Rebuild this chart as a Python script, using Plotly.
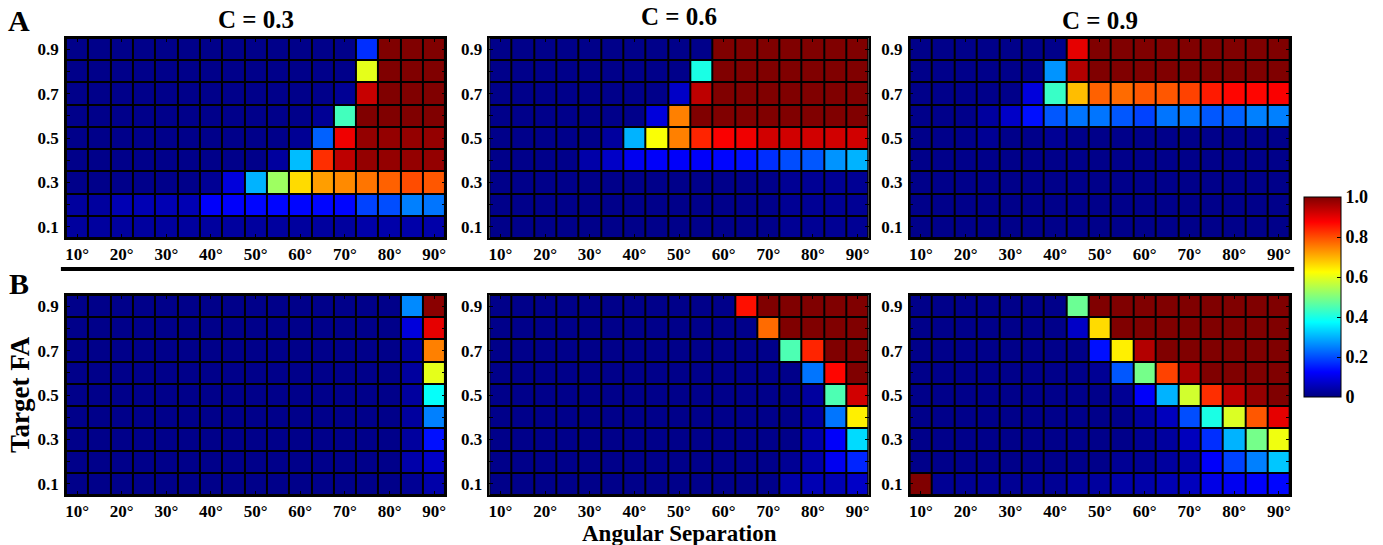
import plotly.graph_objects as go

# Angular separation categories (degrees) and target FA levels
angles = [10, 15, 20, 25, 30, 35, 40, 45, 50, 55, 60, 65, 70, 75, 80, 85, 90]
fa_levels_top_down = [0.9, 0.8, 0.7, 0.6, 0.5, 0.4, 0.3, 0.2, 0.1]
x_tick_vals = [10, 20, 30, 40, 50, 60, 70, 80, 90]
x_tick_text = ["10°", "20°", "30°", "40°", "50°", "60°", "70°", "80°", "90°"]
y_tick_vals = [0.1, 0.2, 0.3, 0.4, 0.5, 0.6, 0.7, 0.8, 0.9]
y_tick_text = ["0.1", "", "0.3", "", "0.5", "", "0.7", "", "0.9"]
cbar_vals = [0, 0.2, 0.4, 0.6, 0.8, 1.0]
cbar_text = ["0", "0.2", "0.4", "0.6", "0.8", "1.0"]
col_titles = ["C = 0.3", "C = 0.6", "C = 0.9"]

# Rows listed from FA 0.9 (top) to FA 0.1 (bottom)
A_c03 = [
    [0.01, 0.01, 0.01, 0.01, 0.01, 0.01, 0.01, 0.01, 0.01, 0.01, 0.01, 0.01, 0.01, 0.17, 1.00, 1.00, 1.00],
    [0.01, 0.01, 0.01, 0.01, 0.01, 0.01, 0.01, 0.01, 0.01, 0.01, 0.01, 0.01, 0.01, 0.60, 1.00, 1.00, 1.00],
    [0.01, 0.01, 0.01, 0.01, 0.01, 0.01, 0.01, 0.01, 0.01, 0.01, 0.01, 0.01, 0.02, 0.93, 1.00, 1.00, 1.00],
    [0.01, 0.01, 0.01, 0.01, 0.01, 0.01, 0.01, 0.01, 0.01, 0.01, 0.01, 0.02, 0.44, 1.00, 1.00, 1.00, 1.00],
    [0.01, 0.01, 0.01, 0.01, 0.01, 0.01, 0.01, 0.01, 0.01, 0.01, 0.02, 0.22, 0.89, 0.98, 0.98, 0.98, 0.98],
    [0.01, 0.01, 0.01, 0.01, 0.01, 0.01, 0.01, 0.01, 0.01, 0.03, 0.31, 0.83, 0.94, 0.98, 0.98, 0.98, 0.98],
    [0.01, 0.01, 0.01, 0.01, 0.01, 0.01, 0.02, 0.09, 0.30, 0.53, 0.66, 0.72, 0.74, 0.76, 0.78, 0.80, 0.79],
    [0.03, 0.03, 0.05, 0.05, 0.05, 0.05, 0.12, 0.12, 0.13, 0.13, 0.13, 0.13, 0.13, 0.19, 0.20, 0.25, 0.24],
    [0.03, 0.03, 0.03, 0.03, 0.03, 0.03, 0.03, 0.03, 0.03, 0.03, 0.03, 0.03, 0.03, 0.04, 0.04, 0.04, 0.04],
]
A_c06 = [
    [0.01, 0.01, 0.01, 0.01, 0.01, 0.01, 0.01, 0.01, 0.01, 0.01, 1.00, 1.00, 1.00, 1.00, 1.00, 1.00, 1.00],
    [0.01, 0.01, 0.01, 0.01, 0.01, 0.01, 0.01, 0.01, 0.01, 0.40, 1.00, 1.00, 1.00, 1.00, 1.00, 1.00, 1.00],
    [0.01, 0.01, 0.01, 0.01, 0.01, 0.01, 0.01, 0.01, 0.07, 0.94, 1.00, 1.00, 1.00, 1.00, 1.00, 1.00, 1.00],
    [0.01, 0.01, 0.01, 0.01, 0.01, 0.01, 0.01, 0.09, 0.75, 1.00, 1.00, 1.00, 1.00, 1.00, 1.00, 1.00, 1.00],
    [0.01, 0.01, 0.01, 0.01, 0.01, 0.03, 0.30, 0.62, 0.75, 0.84, 0.88, 0.89, 0.92, 0.92, 0.92, 0.92, 0.92],
    [0.01, 0.01, 0.01, 0.01, 0.04, 0.07, 0.11, 0.12, 0.12, 0.12, 0.13, 0.14, 0.17, 0.20, 0.21, 0.27, 0.30],
    [0.01, 0.01, 0.01, 0.01, 0.01, 0.01, 0.01, 0.01, 0.01, 0.01, 0.01, 0.01, 0.01, 0.02, 0.02, 0.02, 0.02],
    [0.01, 0.01, 0.01, 0.01, 0.01, 0.01, 0.01, 0.01, 0.01, 0.01, 0.01, 0.01, 0.01, 0.02, 0.02, 0.02, 0.02],
    [0.01, 0.01, 0.01, 0.01, 0.01, 0.01, 0.01, 0.01, 0.01, 0.01, 0.01, 0.01, 0.01, 0.02, 0.02, 0.02, 0.02],
]
A_c09 = [
    [0.01, 0.01, 0.01, 0.01, 0.01, 0.01, 0.01, 0.90, 1.00, 1.00, 1.00, 1.00, 1.00, 1.00, 1.00, 1.00, 1.00],
    [0.01, 0.01, 0.01, 0.01, 0.01, 0.01, 0.27, 0.95, 1.00, 1.00, 1.00, 1.00, 1.00, 1.00, 1.00, 1.00, 1.00],
    [0.01, 0.01, 0.01, 0.01, 0.01, 0.09, 0.43, 0.69, 0.78, 0.77, 0.79, 0.79, 0.81, 0.85, 0.87, 0.87, 0.88],
    [0.01, 0.01, 0.01, 0.03, 0.07, 0.14, 0.21, 0.24, 0.24, 0.21, 0.19, 0.24, 0.24, 0.21, 0.22, 0.25, 0.25],
    [0.01, 0.01, 0.01, 0.02, 0.01, 0.01, 0.02, 0.01, 0.01, 0.01, 0.01, 0.01, 0.01, 0.01, 0.01, 0.01, 0.01],
    [0.01, 0.01, 0.01, 0.01, 0.01, 0.01, 0.01, 0.01, 0.01, 0.01, 0.01, 0.01, 0.01, 0.01, 0.01, 0.01, 0.01],
    [0.01, 0.01, 0.01, 0.01, 0.01, 0.01, 0.01, 0.01, 0.01, 0.01, 0.01, 0.01, 0.01, 0.01, 0.01, 0.01, 0.01],
    [0.01, 0.01, 0.01, 0.01, 0.01, 0.01, 0.01, 0.01, 0.01, 0.01, 0.01, 0.01, 0.01, 0.01, 0.01, 0.01, 0.01],
    [0.01, 0.01, 0.01, 0.01, 0.01, 0.01, 0.01, 0.01, 0.01, 0.01, 0.01, 0.01, 0.01, 0.01, 0.01, 0.01, 0.01],
]
B_c03 = [
    [0.01, 0.01, 0.01, 0.01, 0.01, 0.01, 0.01, 0.01, 0.01, 0.01, 0.01, 0.01, 0.01, 0.01, 0.01, 0.26, 0.99],
    [0.01, 0.01, 0.01, 0.01, 0.01, 0.01, 0.01, 0.01, 0.01, 0.01, 0.01, 0.01, 0.01, 0.01, 0.01, 0.09, 0.90],
    [0.01, 0.01, 0.01, 0.01, 0.01, 0.01, 0.01, 0.01, 0.01, 0.01, 0.01, 0.01, 0.01, 0.01, 0.01, 0.03, 0.75],
    [0.01, 0.01, 0.01, 0.01, 0.01, 0.01, 0.01, 0.01, 0.01, 0.01, 0.01, 0.01, 0.01, 0.01, 0.01, 0.03, 0.60],
    [0.01, 0.01, 0.01, 0.01, 0.01, 0.01, 0.01, 0.01, 0.01, 0.01, 0.01, 0.01, 0.01, 0.01, 0.01, 0.03, 0.38],
    [0.01, 0.01, 0.01, 0.01, 0.01, 0.01, 0.01, 0.01, 0.01, 0.01, 0.01, 0.01, 0.01, 0.01, 0.01, 0.03, 0.25],
    [0.01, 0.01, 0.01, 0.01, 0.01, 0.01, 0.01, 0.01, 0.01, 0.01, 0.01, 0.01, 0.01, 0.01, 0.01, 0.03, 0.14],
    [0.01, 0.01, 0.01, 0.01, 0.01, 0.01, 0.01, 0.01, 0.01, 0.01, 0.01, 0.01, 0.01, 0.01, 0.01, 0.04, 0.07],
    [0.01, 0.01, 0.01, 0.01, 0.01, 0.01, 0.01, 0.01, 0.01, 0.01, 0.01, 0.01, 0.01, 0.01, 0.01, 0.02, 0.04],
]
B_c06 = [
    [0.01, 0.01, 0.01, 0.01, 0.01, 0.01, 0.01, 0.01, 0.01, 0.01, 0.01, 0.86, 1.00, 1.00, 1.00, 1.00, 1.00],
    [0.01, 0.01, 0.01, 0.01, 0.01, 0.01, 0.01, 0.01, 0.01, 0.01, 0.01, 0.01, 0.77, 1.00, 1.00, 1.00, 1.00],
    [0.01, 0.01, 0.01, 0.01, 0.01, 0.01, 0.01, 0.01, 0.01, 0.01, 0.01, 0.01, 0.01, 0.45, 0.84, 1.00, 1.00],
    [0.01, 0.01, 0.01, 0.01, 0.01, 0.01, 0.01, 0.01, 0.01, 0.01, 0.01, 0.01, 0.01, 0.01, 0.24, 0.87, 1.00],
    [0.01, 0.01, 0.01, 0.01, 0.01, 0.01, 0.01, 0.01, 0.01, 0.01, 0.01, 0.01, 0.01, 0.01, 0.03, 0.45, 0.92],
    [0.01, 0.01, 0.01, 0.01, 0.01, 0.01, 0.01, 0.01, 0.01, 0.01, 0.01, 0.01, 0.01, 0.01, 0.03, 0.24, 0.64],
    [0.01, 0.01, 0.01, 0.01, 0.01, 0.01, 0.01, 0.01, 0.01, 0.01, 0.01, 0.01, 0.01, 0.01, 0.04, 0.12, 0.34],
    [0.01, 0.01, 0.01, 0.01, 0.01, 0.01, 0.01, 0.01, 0.01, 0.01, 0.01, 0.01, 0.01, 0.02, 0.04, 0.11, 0.16],
    [0.01, 0.01, 0.01, 0.01, 0.01, 0.01, 0.01, 0.01, 0.01, 0.01, 0.01, 0.01, 0.01, 0.04, 0.05, 0.05, 0.07],
]
B_c09 = [
    [0.01, 0.01, 0.01, 0.01, 0.01, 0.01, 0.01, 0.48, 1.00, 1.00, 1.00, 1.00, 1.00, 1.00, 1.00, 1.00, 1.00],
    [0.01, 0.01, 0.01, 0.01, 0.01, 0.01, 0.01, 0.07, 0.66, 1.00, 1.00, 1.00, 1.00, 1.00, 1.00, 1.00, 1.00],
    [0.01, 0.01, 0.01, 0.01, 0.01, 0.01, 0.01, 0.01, 0.14, 0.64, 0.95, 1.00, 1.00, 1.00, 1.00, 1.00, 1.00],
    [0.01, 0.01, 0.01, 0.01, 0.01, 0.01, 0.01, 0.01, 0.02, 0.21, 0.49, 0.81, 0.96, 1.00, 1.00, 1.00, 1.00],
    [0.01, 0.01, 0.01, 0.01, 0.01, 0.01, 0.01, 0.01, 0.01, 0.02, 0.12, 0.30, 0.58, 0.83, 0.94, 0.98, 1.00],
    [0.01, 0.01, 0.01, 0.01, 0.01, 0.01, 0.01, 0.01, 0.01, 0.01, 0.03, 0.06, 0.20, 0.40, 0.59, 0.79, 0.90],
    [0.01, 0.01, 0.01, 0.01, 0.01, 0.01, 0.01, 0.01, 0.01, 0.01, 0.02, 0.03, 0.06, 0.17, 0.30, 0.49, 0.61],
    [0.01, 0.01, 0.01, 0.01, 0.01, 0.01, 0.01, 0.01, 0.01, 0.02, 0.02, 0.03, 0.04, 0.12, 0.19, 0.25, 0.32],
    [1.00, 0.02, 0.02, 0.02, 0.02, 0.02, 0.02, 0.03, 0.03, 0.04, 0.04, 0.05, 0.06, 0.10, 0.11, 0.12, 0.13],
]

panels = [A_c03, A_c06, A_c09, B_c03, B_c06, B_c09]

# ---- styling ----
W, H = 1383, 545
FONT = "Liberation Serif"
jet = [
    [0.0, "rgb(0,0,128)"],
    [0.125, "rgb(0,0,255)"],
    [0.375, "rgb(0,255,255)"],
    [0.625, "rgb(255,255,0)"],
    [0.875, "rgb(255,0,0)"],
    [1.0, "rgb(128,0,0)"],
]

def px_x(p):
    return p / W

def px_y(p):
    return 1 - p / H

col_px = [(65, 445), (489, 869), (910, 1291)]
row_px = [(38, 238), (295, 495)]
tick_font = dict(family=FONT, size=17, color="black", weight="bold")

fig = go.Figure()
for idx, z in enumerate(panels):
    r, c = divmod(idx, 3)
    n = idx + 1
    xa = "x" if n == 1 else f"x{n}"
    ya = "y" if n == 1 else f"y{n}"
    fa_up = fa_levels_top_down[::-1]
    z_up = z[::-1]
    fig.add_trace(go.Heatmap(
        x=angles, y=fa_up, z=z_up, coloraxis="coloraxis",
        xgap=2, ygap=2, xaxis=xa, yaxis=ya, hoverinfo="skip",
    ))
    xk = "xaxis" if n == 1 else f"xaxis{n}"
    yk = "yaxis" if n == 1 else f"yaxis{n}"
    fig.layout[xk] = dict(
        domain=[px_x(col_px[c][0]), px_x(col_px[c][1])],
        anchor=ya, range=[7.5, 92.5], tickvals=x_tick_vals, ticktext=x_tick_text,
        ticks="inside", ticklen=4, tickcolor="black", showline=True, linecolor="black",
        linewidth=1.5, mirror="ticks", showgrid=False, zeroline=False,
        tickfont=tick_font, ticklabelstandoff=0,
    )
    fig.layout[yk] = dict(
        domain=[px_y(row_px[r][1]), px_y(row_px[r][0])],
        anchor=xa, range=[0.05, 0.95], tickvals=y_tick_vals, ticktext=y_tick_text,
        ticks="inside", ticklen=4, tickcolor="black", showline=True, linecolor="black",
        linewidth=1.5, mirror="ticks", showgrid=False, zeroline=False,
        tickfont=tick_font, ticklabelstandoff=2,
    )

fig.update_layout(
    width=W, height=H,
    margin=dict(l=0, r=0, t=0, b=0),
    paper_bgcolor="white", plot_bgcolor="black",
    coloraxis=dict(
        colorscale=jet, cmin=0, cmax=1,
        colorbar=dict(
            x=px_x(1305), xanchor="left", y=px_y(297), yanchor="middle",
            lenmode="pixels", len=200, thickness=37, thicknessmode="pixels",
            outlinecolor="black", outlinewidth=1,
            tickvals=cbar_vals, ticktext=cbar_text, ticks="inside", ticklen=4,
            tickcolor="black",
            tickfont=dict(family=FONT, size=18, color="black", weight="bold"),
            xpad=0, ypad=0,
        ),
    ),
    showlegend=False,
)

annos = []
title_y = [19, 17, 20]
for c, t in enumerate(col_titles):
    annos.append(dict(
        text=t, x=px_x((col_px[c][0] + col_px[c][1]) / 2), y=px_y(title_y[c]),
        xref="paper", yref="paper", showarrow=False, xanchor="center", yanchor="middle",
        font=dict(family=FONT, size=25, color="black", weight="bold"),
    ))
annos.append(dict(text="A", x=px_x(18), y=px_y(21), xref="paper", yref="paper",
                  showarrow=False, xanchor="center", yanchor="middle",
                  font=dict(family=FONT, size=30, color="black", weight="bold")))
annos.append(dict(text="B", x=px_x(18), y=px_y(283), xref="paper", yref="paper",
                  showarrow=False, xanchor="center", yanchor="middle",
                  font=dict(family=FONT, size=30, color="black", weight="bold")))
annos.append(dict(text="Target FA", x=px_x(19), y=px_y(394), xref="paper", yref="paper",
                  showarrow=False, xanchor="center", yanchor="middle", textangle=-90,
                  font=dict(family=FONT, size=27, color="black", weight="bold")))
annos.append(dict(text="Angular Separation", x=px_x(679), y=px_y(533), xref="paper", yref="paper",
                  showarrow=False, xanchor="center", yanchor="middle",
                  font=dict(family=FONT, size=23, color="black", weight="bold")))
fig.update_layout(annotations=annos)

fig.add_shape(type="line", xref="paper", yref="paper",
              x0=px_x(60), x1=px_x(1295), y0=px_y(269), y1=px_y(269),
              line=dict(color="black", width=4))

fig.write_html("out.html", config={"displayModeBar": False},
               post_script="document.body.style.margin='0px';document.body.style.overflow='hidden';")
